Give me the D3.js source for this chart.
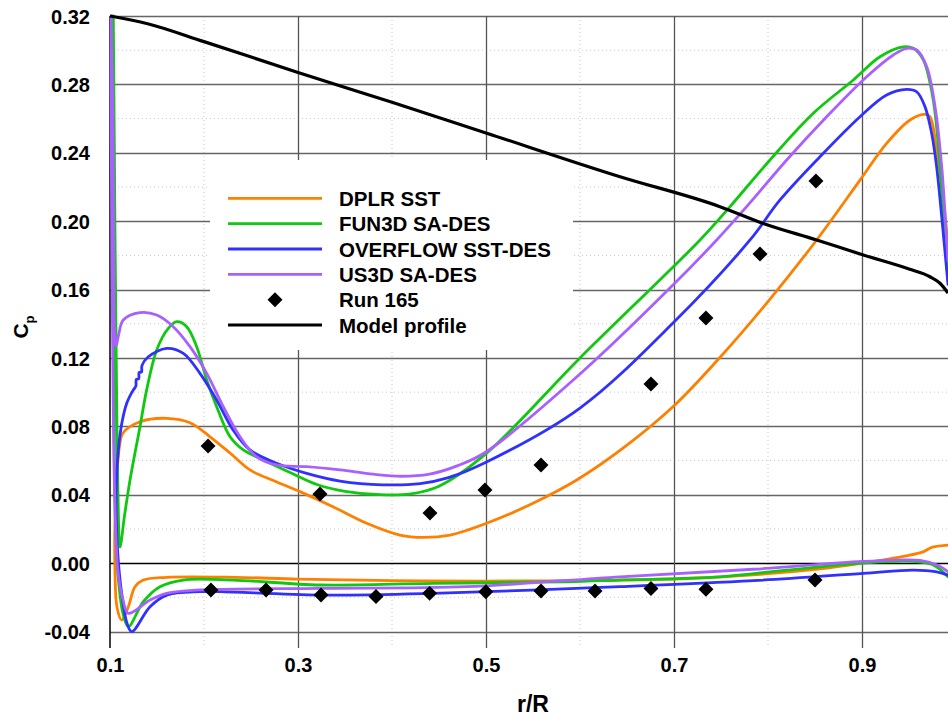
<!DOCTYPE html>
<html>
<head>
<meta charset="utf-8">
<script src="https://cdn.jsdelivr.net/npm/d3@7"></script>
<style>
html,body{margin:0;padding:0;background:#fff;}
svg{display:block;}
text{font-family:"Liberation Sans",Arial,Helvetica,sans-serif;font-weight:bold;fill:#000;}
</style>
</head>
<body>
<svg id="chart" width="948" height="719"></svg>
<script>
// ---------- data ----------
const xTicks = [0.1, 0.3, 0.5, 0.7, 0.9];
const xMinor = [0.2, 0.4, 0.6, 0.8];
const yTicks = [-0.04, 0.0, 0.04, 0.08, 0.12, 0.16, 0.20, 0.24, 0.28, 0.32];
const yMinor = [-0.02, 0.02, 0.06, 0.10, 0.14, 0.18, 0.22, 0.26, 0.30];

const seriesNames = ["DPLR SST", "FUN3D SA-DES", "OVERFLOW SST-DES", "US3D SA-DES", "Run 165", "Model profile"];
const seriesColors = ["#ff8000", "#10c810", "#3030ff", "#a860ff", "#000000", "#000000"];

const dplrSST = [[0.9915,0.0105],[0.975,0.0093],[0.965,0.0066],[0.947,0.0043],[0.9,0.0],[0.853,-0.0035],[0.78,-0.007],[0.714,-0.009],[0.64,-0.0099],[0.5,-0.0105],[0.4,-0.0102],[0.3,-0.0094],[0.233,-0.0083],[0.16,-0.0083],[0.1354,-0.0099],[0.1266,-0.0138],[0.1195,-0.0255],[0.1124,-0.0333],[0.1075,-0.026],[0.1053,-0.005],[0.1053,0.025],[0.1071,0.0486],[0.110,0.068],[0.1138,0.0761],[0.1319,0.0827],[0.1603,0.0847],[0.1851,0.0821],[0.2064,0.0739],[0.2277,0.0644],[0.2489,0.0545],[0.275,0.048],[0.3021,0.0418],[0.3372,0.033],[0.3731,0.0233],[0.4085,0.0164],[0.433,0.015],[0.4617,0.0164],[0.5007,0.0233],[0.55,0.035],[0.5965,0.0486],[0.65,0.069],[0.7,0.092],[0.75,0.121],[0.8,0.153],[0.8518,0.189],[0.8979,0.224],[0.9262,0.2455],[0.9511,0.2592],[0.967,0.2625],[0.9723,0.2611],[0.9794,0.2416],[0.9865,0.2124],[0.9915,0.186]];

const fun3dSADES = [[0.9915,-0.008],[0.9755,-0.001],[0.9546,0.001],[0.9011,0.0],[0.8199,-0.0041],[0.7489,-0.008],[0.6426,-0.0099],[0.5862,-0.0109],[0.4436,-0.0118],[0.3234,-0.0128],[0.2309,-0.0099],[0.178,-0.0099],[0.1532,-0.0138],[0.1354,-0.0226],[0.1195,-0.0372],[0.114,-0.03],[0.109,-0.01],[0.1055,0.03],[0.104,0.12],[0.1033,0.25],[0.1035,0.32],[0.1052,0.2],[0.107,0.1],[0.1085,0.04],[0.1106,0.0094],[0.1155,0.028],[0.1213,0.0486],[0.1319,0.0798],[0.139,0.1013],[0.1497,0.1247],[0.162,0.1373],[0.171,0.1412],[0.1816,0.1383],[0.1922,0.1266],[0.2029,0.1071],[0.2135,0.0915],[0.2277,0.0739],[0.2418,0.0662],[0.2631,0.0603],[0.2915,0.053],[0.32,0.046],[0.35,0.042],[0.3872,0.04],[0.42,0.0405],[0.45,0.045],[0.5,0.064],[0.6,0.12],[0.7277,0.189],[0.7596,0.2085],[0.8021,0.2358],[0.8482,0.2631],[0.8908,0.2826],[0.9191,0.2962],[0.9439,0.302],[0.9545,0.3011],[0.9652,0.2943],[0.9758,0.2709],[0.983,0.2319],[0.9883,0.189],[0.9915,0.165]];

const overflowSSTDES = [[0.9915,-0.007],[0.9794,-0.0051],[0.9546,-0.0041],[0.9011,-0.006],[0.7844,-0.0103],[0.6426,-0.0138],[0.4436,-0.0177],[0.3234,-0.0187],[0.217,-0.0167],[0.1957,-0.0167],[0.1603,-0.0187],[0.1426,-0.0255],[0.1231,-0.0401],[0.118,-0.035],[0.113,-0.02],[0.109,0.0],[0.107,0.02],[0.1065,0.04],[0.108,0.06],[0.112,0.08],[0.1178,0.0935],[0.1245,0.101],[0.1275,0.1035],[0.128,0.1075],[0.1305,0.1078],[0.131,0.1115],[0.1335,0.1118],[0.134,0.1155],[0.1407,0.1207],[0.1603,0.1256],[0.178,0.1227],[0.1957,0.111],[0.2135,0.0954],[0.2309,0.0779],[0.2489,0.0662],[0.2773,0.0584],[0.3092,0.0525],[0.3447,0.048],[0.39,0.0458],[0.43,0.0465],[0.46,0.05],[0.5,0.059],[0.6,0.0907],[0.7,0.141],[0.7809,0.189],[0.8128,0.2124],[0.8553,0.2377],[0.8979,0.2611],[0.9262,0.2738],[0.9475,0.2771],[0.9582,0.2757],[0.967,0.267],[0.9741,0.2514],[0.9794,0.2319],[0.9848,0.2026],[0.9915,0.163]];

const us3dSADES = [[0.9915,-0.005],[0.9794,-0.001],[0.9617,0.0016],[0.9014,0.001],[0.7844,-0.0036],[0.6426,-0.008],[0.4795,-0.0138],[0.3234,-0.0148],[0.1957,-0.0157],[0.1603,-0.0177],[0.1426,-0.0216],[0.1195,-0.0294],[0.114,-0.022],[0.1085,-0.005],[0.105,0.04],[0.1025,0.15],[0.1013,0.25],[0.1012,0.32],[0.1032,0.25],[0.104,0.17],[0.1048,0.135],[0.1065,0.127],[0.109,0.133],[0.1141,0.1422],[0.1319,0.1465],[0.1497,0.1451],[0.1673,0.1383],[0.1851,0.1266],[0.2029,0.111],[0.2205,0.0915],[0.2383,0.0739],[0.2561,0.0622],[0.2773,0.0574],[0.3092,0.0564],[0.3447,0.0545],[0.38,0.052],[0.41,0.0508],[0.44,0.052],[0.47,0.057],[0.5,0.065],[0.6,0.1106],[0.7,0.1632],[0.7454,0.189],[0.7773,0.2085],[0.8199,0.2358],[0.8624,0.2611],[0.905,0.2845],[0.9333,0.2972],[0.9475,0.3011],[0.9582,0.3001],[0.9688,0.2904],[0.9777,0.267],[0.9848,0.2319],[0.9901,0.189],[0.9915,0.177]];

const modelProfile = [[0.1,0.32],[0.14,0.3155],[0.2,0.305],[0.3,0.287],[0.4,0.2695],[0.5,0.2516],[0.6426,0.226],[0.7489,0.2085],[0.795,0.1987],[0.8518,0.189],[0.9014,0.1802],[0.95,0.172],[0.9723,0.1675],[0.983,0.1637],[0.9915,0.158]];

const run165R  = [0.2043,0.3234,0.4404,0.4989,0.5585,0.6755,0.734,0.7915,0.851, 0.2074,0.266,0.3245,0.383,0.440,0.4998,0.5585,0.616,0.6755,0.734,0.85];
const run165Cp = [0.0685,0.0404,0.0293,0.0428,0.0574,0.1048,0.1434,0.1808,0.2235, -0.0157,-0.0157,-0.0187,-0.0195,-0.0177,-0.0167,-0.0163,-0.0163,-0.0148,-0.0153,-0.0099];

// ---------- layout ----------
const svg = d3.select("#chart");
const x = d3.scaleLinear().domain([0.1, 0.9915]).range([110, 948]);
const y = d3.scaleLinear().domain([-0.04, 0.32]).range([631.5, 16]);
const tickBottom = 648;

svg.append("defs").append("clipPath").attr("id","clip")
  .append("rect").attr("x",108).attr("y",10).attr("width",842).attr("height",630);

// minor dotted grid
const g = svg.append("g");
g.selectAll(".ymin").data(yMinor).join("line")
  .attr("x1",x(0.1)).attr("x2",948).attr("y1",d=>y(d)).attr("y2",d=>y(d))
  .attr("stroke","#c8c8c8").attr("stroke-width",1).attr("stroke-dasharray","1,3");
g.selectAll(".xmin").data(xMinor).join("line")
  .attr("x1",d=>x(d)).attr("x2",d=>x(d)).attr("y1",y(0.32)).attr("y2",tickBottom)
  .attr("stroke","#c8c8c8").attr("stroke-width",1).attr("stroke-dasharray","1,3");

// major grid
g.selectAll(".ymaj").data(yTicks).join("line")
  .attr("x1",x(0.1)).attr("x2",948).attr("y1",d=>Math.round(y(d))+0.5).attr("y2",d=>Math.round(y(d))+0.5)
  .attr("stroke",d=>Math.abs(d)<1e-9?"#000":"#666").attr("stroke-width",1.3);
g.selectAll(".xmaj").data(xTicks.slice(1)).join("line")
  .attr("x1",d=>Math.round(x(d))+0.5).attr("x2",d=>Math.round(x(d))+0.5).attr("y1",y(0.32)).attr("y2",tickBottom)
  .attr("stroke","#555").attr("stroke-width",1.3);
// left axis line
g.append("line").attr("x1",x(0.1)).attr("x2",x(0.1)).attr("y1",y(0.32)).attr("y2",tickBottom)
  .attr("stroke","#000").attr("stroke-width",1.5);

// axes labels via d3 axes
const xAxis = d3.axisBottom(x).tickValues(xTicks).tickFormat(d=>d.toFixed(1)).tickSize(0);
const xa = svg.append("g").attr("transform","translate(0,650)").call(xAxis);
xa.select(".domain").remove();
xa.selectAll("text").attr("font-size",20).attr("dy",null).attr("y",22)
  .style("font-family","'Liberation Sans',Arial,sans-serif").style("font-weight","bold").attr("fill","#000");

const yAxis = d3.axisLeft(y).tickValues(yTicks).tickFormat(d=>d.toFixed(2)).tickSize(0);
const ya = svg.append("g").attr("transform","translate(90,0)").call(yAxis);
ya.select(".domain").remove();
ya.selectAll("text").attr("font-size",20).attr("x",0).attr("dy","0.36em")
  .style("font-family","'Liberation Sans',Arial,sans-serif").style("font-weight","bold").attr("fill","#000");

// axis titles
svg.append("text").attr("x",533).attr("y",712).attr("text-anchor","middle").attr("font-size",23).text("r/R");
const yt = svg.append("text").attr("transform","translate(28,327) rotate(-90)").attr("text-anchor","middle").attr("font-size",21);
yt.append("tspan").text("C");
yt.append("tspan").attr("font-size",13).attr("dy",6).text("p");

// curves
const plot = svg.append("g").attr("clip-path","url(#clip)");
const curveLine = d3.line().x(d=>x(d[0])).y(d=>y(d[1])).curve(d3.curveCatmullRom.alpha(0.5));
const cfd = [dplrSST, fun3dSADES, overflowSSTDES, us3dSADES];
cfd.forEach((data,i)=>{
  plot.append("path").datum(data).attr("d",curveLine)
    .attr("fill","none").attr("stroke",seriesColors[i]).attr("stroke-width",2.8)
    .attr("stroke-linejoin","round").attr("stroke-linecap","round");
});
const profLine = d3.line().x(d=>x(d[0])).y(d=>y(d[1])).curve(d3.curveMonotoneX);

// legend box (drawn under the profile line so the line stays visible at its corner)
const leg = svg.append("g");
leg.append("rect").attr("x",210).attr("y",160).attr("width",363).attr("height",190).attr("fill","#fff");

plot.append("path").datum(modelProfile).attr("d",profLine)
  .attr("fill","none").attr("stroke","#000").attr("stroke-width",3.2);
svg.node().appendChild(plot.node());

// diamonds
const diamond = d3.symbol().type(d3.symbolSquare).size(112);
plot.selectAll(".run").data(run165R.map((r,i)=>[r,run165Cp[i]])).join("path")
  .attr("d",diamond).attr("transform",d=>`translate(${x(d[0])},${y(d[1])}) rotate(45)`).attr("fill","#000");

// legend entries
const legItems = svg.append("g");
const legY = [198.3,223.6,249,274.3,299.7,325];
seriesNames.forEach((name,i)=>{
  if(i===4){
    legItems.append("path").attr("d",diamond).attr("transform",`translate(275,${legY[i]}) rotate(45)`).attr("fill","#000");
  } else {
    legItems.append("line").attr("x1",228).attr("x2",322).attr("y1",legY[i]).attr("y2",legY[i])
      .attr("stroke",seriesColors[i]).attr("stroke-width",i===5?3.2:2.8);
  }
  legItems.append("text").attr("x",339).attr("y",legY[i]+7.5).attr("font-size",20.5).text(name);
});
</script>
</body>
</html>
